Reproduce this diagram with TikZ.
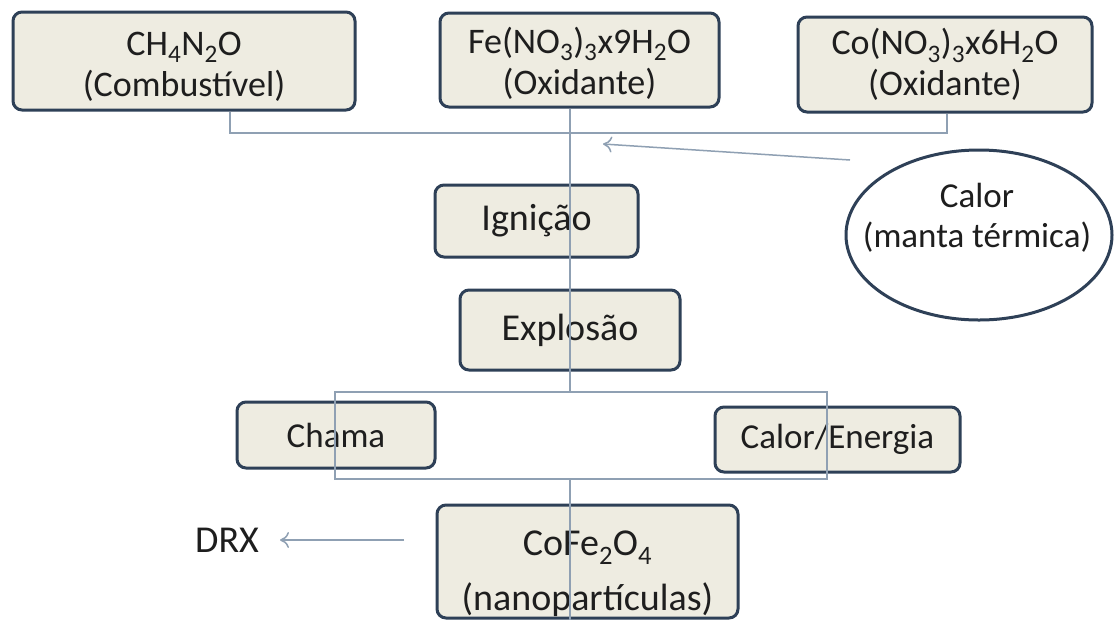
\documentclass[tikz,border=0pt]{standalone}
\usepackage{fontspec}
\setmainfont{Carlito}
\usetikzlibrary{shapes.geometric,arrows.meta}
\definecolor{boxfill}{HTML}{EEECE1}
\definecolor{boxline}{HTML}{2E4057}
\definecolor{connc}{HTML}{8FA0B3}
\definecolor{txt}{HTML}{1E1E1E}
\newcommand{\lift}[1]{\rule{0pt}{#1}}
\begin{document}
\begin{tikzpicture}[x=1pt,y=-1pt,
  stepbox/.style={draw=boxline, line width=3pt, fill=boxfill, rounded corners=9pt,
    text=txt, align=center, inner sep=0pt},
  conn/.style={draw=connc, line width=1.5pt},
  arr/.style={conn, -{To[length=9pt,width=16pt]}},
  ftop/.style={font=\fontsize{36}{41}\selectfont},
  fmid/.style={font=\fontsize{38}{44}\selectfont},
  fsml/.style={font=\fontsize{35}{40}\selectfont}]
\useasboundingbox[fill=white] (0,0) rectangle (1118,622);

\node[stepbox, ftop, minimum width=342pt, minimum height=98pt] (b1) at (184,61)
  {\lift{34pt}CH\textsubscript{4}N\textsubscript{2}O\\(Combustível)};
\node[stepbox, ftop, minimum width=279pt, minimum height=94pt] (b2) at (579.5,60)
  {\lift{32pt}Fe(NO\textsubscript{3})\textsubscript{3}x9H\textsubscript{2}O\\(Oxidante)};
\node[stepbox, ftop, minimum width=294pt, minimum height=95pt] (b3) at (945,64.5)
  {Co(NO\textsubscript{3})\textsubscript{3}x6H\textsubscript{2}O\\(Oxidante)};
\node[ellipse, draw=boxline, line width=3pt, fill=white, minimum width=266pt,
  minimum height=170pt, inner sep=0pt] (ell) at (979,235) {};
\node[fsml, text=txt, align=center, inner sep=0pt] (ellt) at (977,218)
  {Calor\\(manta térmica)};
\node[stepbox, fmid, minimum width=203pt, minimum height=72pt] (ign) at (536.5,221) {Ignição};
\node[stepbox, fmid, minimum width=220pt, minimum height=80pt] (exp) at (570,330) {Explosão};
\node[stepbox, fsml, minimum width=198pt, minimum height=66pt] (cha) at (336,435) {Chama};
\node[stepbox, fsml, minimum width=245pt, minimum height=65pt] (cal) at (837.5,439.5) {Calor/Energia};
\node[stepbox, font=\fontsize{38}{43}\selectfont, minimum width=301pt, minimum height=113pt]
  (cofe) at (587.5,561.5)
  {\lift{50pt}CoFe\textsubscript{2}O\textsubscript{4}\\[12pt](nanopartículas)};
\node[text=txt, fmid, inner sep=0pt] (drx) at (227,540) {DRX};

\coordinate (h1) at (230,133);
\coordinate (hm) at (570,133);
\coordinate (h3) at (947,133);
\coordinate (bl) at (335,392);
\coordinate (br) at (827,479);
\coordinate (a1) at (850,160);
\coordinate (a2) at (603,144);
\coordinate (d1) at (404,540);
\coordinate (d2) at (280,540);

\draw[conn] (h1 |- b1.south) -- (h1) -- (h3) -- (h3 |- b3.south);
\draw[conn] (hm |- b2.south) -- (hm |- bl);
\draw[conn] (bl) rectangle (br);
\draw[conn] (hm |- br) -- (hm |- cofe.south);
\draw[arr] (a1) -- (a2);
\draw[arr] (d1) -- (d2);
\end{tikzpicture}
\end{document}
